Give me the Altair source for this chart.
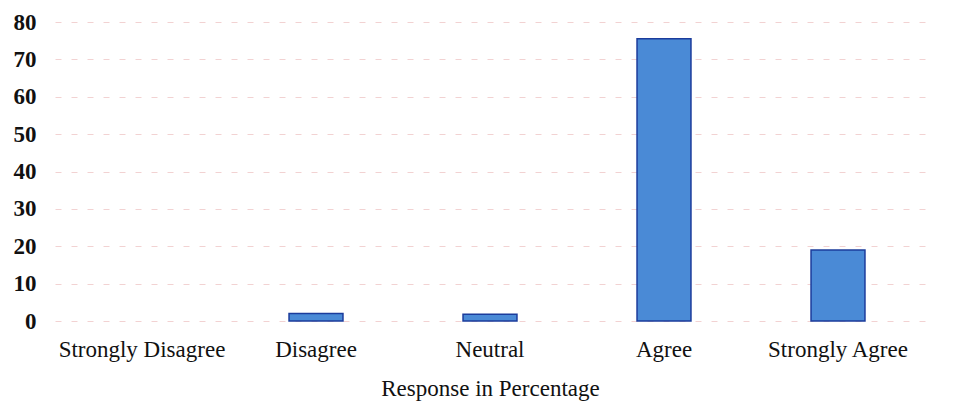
import altair as alt
import pandas as pd

categories = ["Strongly Disagree", "Disagree", "Neutral", "Agree", "Strongly Agree"]
values = [0, 2, 1.8, 75.5, 19]

df = pd.DataFrame({"Response": categories, "Percent": values})

chart = alt.Chart(df).mark_bar(
    color="#4a8ad6", stroke="#1b3c9c", strokeWidth=1.5
).encode(
    x=alt.X("Response:N", sort=categories, title="Response in Percentage",
            scale=alt.Scale(paddingInner=0.69, paddingOuter=0.345),
            axis=alt.Axis(labelAngle=0, domain=False, ticks=False, labelPadding=17,
                          labelFont="Liberation Serif", labelFontSize=23, labelColor="#111",
                          titleFont="Liberation Serif", titleFontSize=23, titleFontWeight="normal",
                          titleColor="#111", titlePadding=16)),
    y=alt.Y("Percent:Q", title=None,
            scale=alt.Scale(domain=[0, 80], nice=False),
            axis=alt.Axis(values=list(range(0, 81, 10)), domain=False, ticks=False, labelPadding=19,
                          labelFont="Liberation Serif", labelFontSize=23, labelFontWeight="bold",
                          labelColor="#111", grid=True, gridColor="#f2d2d2", gridDash=[6, 10],
                          gridWidth=1)),
    strokeOpacity=alt.condition(alt.datum.Percent > 0, alt.value(1), alt.value(0))
).properties(
    width=870, height=299,
    autosize=alt.AutoSizeParams(type="none"),
    padding={"left": 47, "top": 14, "right": 20, "bottom": 80}
).configure(background="white").configure_view(stroke=None)

chart.save("out.html", embed_options={"renderer": "svg", "actions": False})
